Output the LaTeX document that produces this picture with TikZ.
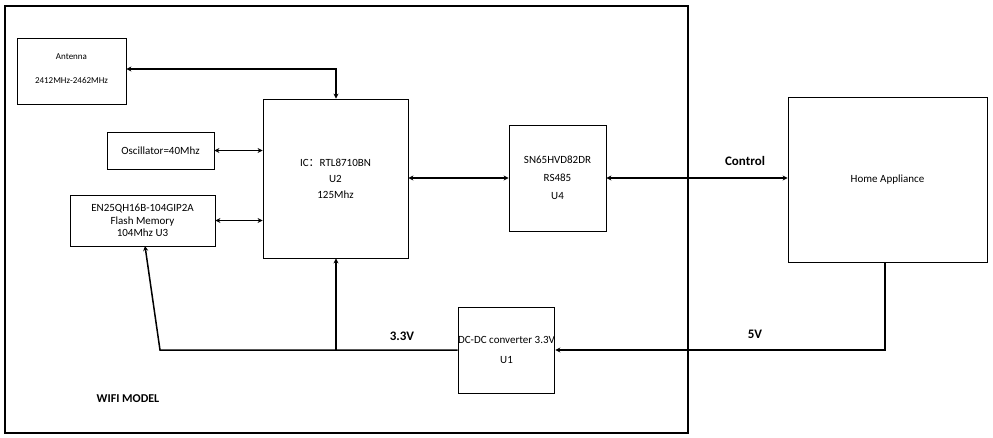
\documentclass[tikz,border=0pt]{standalone}
\usepackage{fontspec}
\setmainfont{Carlito}
\newfontfamily\cjk{Noto Sans CJK SC}
\usetikzlibrary{arrows.meta}
\begin{document}
\begin{tikzpicture}[x=1pt,y=-1pt,
  box/.style={draw,line width=0.8pt,inner sep=0pt},
  txt/.style={font=\fontsize{11}{16}\selectfont,align=center},
  conn/.style={line width=1.5pt,{Stealth[length=5pt,width=5pt]}-{Stealth[length=5pt,width=5pt]}},
  one/.style={line width=1.5pt,-{Stealth[length=5pt,width=5pt]}},
  lbl/.style={font=\fontsize{13}{15}\selectfont\bfseries}]
\useasboundingbox (0,0) rectangle (993,438);
\draw[line width=2.5pt] (5,6) rectangle (688,433);
\node[box,minimum width=109pt,minimum height=66pt] (ant) at (71.5,71) {};
\node[font=\fontsize{9}{10}\selectfont] at (71.5,57) {Antenna};
\node[font=\fontsize{9}{10}\selectfont] at (71.5,80) {2412MHz-2462MHz};
\node[box,minimum width=145pt,minimum height=159pt,txt] (ic) at (335.5,178.5) {IC{\cjk ：}RTL8710BN\\U2\\125Mhz};
\node[box,minimum width=107pt,minimum height=37pt,txt] (osc) at (160.5,150.5) {Oscillator=40Mhz};
\node[box,minimum width=145pt,minimum height=51pt,txt,font=\fontsize{11}{12.5}\selectfont] (fl) at (142.5,220.5) {EN25QH16B-104GIP2A\\Flash Memory\\104Mhz U3};
\node[box,minimum width=97pt,minimum height=106pt,txt,font=\fontsize{11}{18}\selectfont] (sn) at (557.5,178) {SN65HVD82DR\\RS485\\U4};
\node[box,minimum width=199pt,minimum height=165pt,txt] (ha) at (887.5,179.5) {Home Appliance};
\node[box,minimum width=95pt,minimum height=86pt,txt,font=\fontsize{11}{20}\selectfont] (dc) at (506.5,350) {DC-DC converter 3.3V\\U1};
\coordinate (a1) at (336,69);
\coordinate (f1) at (145,246);
\draw[conn] (ant.east |- a1) -- (a1) -- (ic.north -| a1);
\draw[conn] (osc.east) -- (osc.east -| ic.west);
\draw[conn] (fl.east) -- (fl.east -| ic.west);
\draw[conn] (ic.east |- sn.west) -- (sn.west);
\draw[conn] (sn.east) -- (sn.east -| ha.west);
\node[lbl] at (745,161) {Control};
\coordinate (h1) at (885,350);
\draw[one] (ha.south -| h1) -- (h1) -- (dc.east);
\node[lbl] at (755,334) {5V};
\coordinate (p1) at (160,350);
\coordinate (p2) at (336,350);
\draw[one] (dc.west) -- (p1) -- (f1);
\draw[one] (p2) -- (ic.south -| p2);
\node[lbl] at (402,336) {3.3V};
\node[font=\fontsize{12}{14}\selectfont\bfseries] at (128,399) {WIFI MODEL};
\end{tikzpicture}
\end{document}
